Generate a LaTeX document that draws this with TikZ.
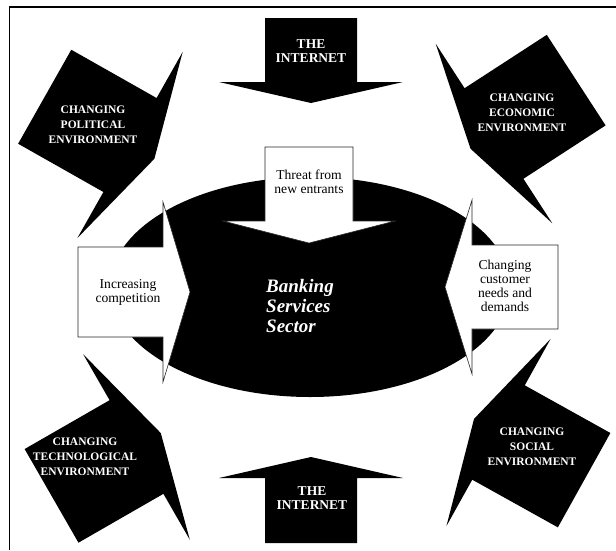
\documentclass[tikz,border=0pt]{standalone}
\usepackage{fontspec}
\setmainfont{Liberation Serif}

\begin{document}
\begin{tikzpicture}[x=1pt, y=-1pt,
  blackarr/.style={fill=black},
  whitearr/.style={fill=white, draw=black!85, line width=0.6pt},
  caps/.style={text=white, font=\fontsize{11.5}{15}\selectfont\bfseries, align=center, inner sep=0pt},
  inet/.style={text=white, font=\fontsize{13.5}{14}\selectfont\bfseries, align=center, inner sep=0pt},
  force/.style={font=\fontsize{13.6}{14}\selectfont, align=center, inner sep=0pt},
]
\useasboundingbox (0,0) rectangle (616,550);
\draw[line width=1.2pt] (9.5,550) -- (9.5,7) -- (616,7);

% corner arrows
\foreach \px/\py/\ang in {130/145/-29.5, 494/133.5/-147, 136.5/447/29.9, 498.5/432.5/150.9}
  \fill[blackarr, shift={(\px,\py)}, rotate=\ang]
    (-98,54) -- (0,54) -- (0,107) -- (28,0) -- (0,-107) -- (0,-54) -- (-98,-54) -- cycle;

% the internet
\fill[blackarr] (265,18) -- (357,18) -- (357,82) -- (403,82) -- (311,103) -- (219,82) -- (265,82) -- cycle;
\fill[blackarr] (265,543) -- (357,543) -- (357,478) -- (403,478) -- (311,457) -- (219,478) -- (265,478) -- cycle;

% sector
\fill[black] (310,287) ellipse [x radius=200pt, y radius=110pt];

% forces
\draw[whitearr] (265,147) -- (353,147) -- (353,221) -- (395,221) -- (309,243) -- (223,221) -- (265,221) -- cycle;
\draw[whitearr] (78,247) -- (163,247) -- (163,202) -- (190,292) -- (163,382) -- (163,337) -- (78,337) -- cycle;
\draw[whitearr] (558,245) -- (472,245) -- (472,200) -- (445,287) -- (472,374) -- (472,329) -- (558,329) -- cycle;

\node[caps] (political) at (93,125) {CHANGING\\POLITICAL\\ENVIRONMENT};
\node[caps] (economic) at (522,113) {CHANGING\\ECONOMIC\\ENVIRONMENT};
\node[caps] (techno) at (85,457) {CHANGING\\TECHNOLOGICAL\\ENVIRONMENT};
\node[caps] (social) at (532,447) {CHANGING\\SOCIAL\\ENVIRONMENT};
\node[inet] (nettop) at (311,51) {THE\\INTERNET};
\node[inet] (netbot) at (312,498) {THE\\INTERNET};
\node[force] (threat) at (309,182) {Threat from\\new entrants};
\node[force] (compet) at (128,292) {Increasing\\competition};
\node[force] (needs) at (505,286) {Changing\\customer\\needs and\\demands};
\node[anchor=west, align=left, text=white, inner sep=0pt,
  font=\fontsize{19}{20}\selectfont\bfseries\itshape] (sector) at (266,306) {Banking\\Services\\Sector};
\end{tikzpicture}
\end{document}
